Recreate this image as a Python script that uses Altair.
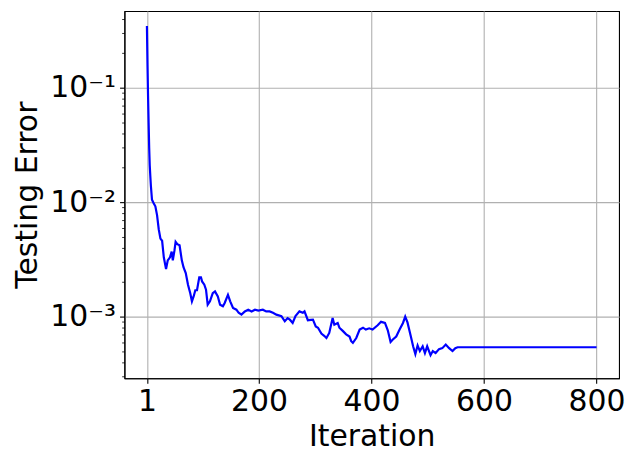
import altair as alt
import pandas as pd

iterations = [1, 2, 3, 4, 5, 6, 7, 8, 10, 13, 16, 19, 22, 25, 28, 31, 35, 38, 42, 45,
              47, 50, 52, 55, 59, 63, 66, 70, 74, 78, 81, 84, 87, 90, 94, 97, 99, 103, 106, 109,
              113, 118, 122, 127, 131, 136, 139, 145, 149, 154, 160, 164, 169, 175, 181, 187, 193, 199, 207, 213,
              219, 225, 231, 240, 246, 251, 255, 260, 265, 272, 278, 281, 287, 296, 301, 305, 311, 316, 320, 325,
              331, 334, 340, 343, 349, 355, 361, 364, 367, 373, 379, 385, 390, 396, 402, 411, 417, 424, 429, 434,
              438, 444, 450, 456, 460, 464, 470, 474, 478, 482, 486, 491, 495, 499, 505, 509, 514, 520, 526, 532,
              538, 544, 549, 553, 800]
errors = [0.346, 0.16, 0.085, 0.05, 0.03, 0.021, 0.017, 0.014, 0.0105, 0.0098, 0.0092, 0.0077, 0.0058, 0.0048, 0.0046, 0.0033, 0.0026, 0.0031, 0.0033, 0.0037,
          0.0031, 0.0038, 0.0045, 0.0043, 0.0042, 0.0031, 0.0027, 0.0024, 0.0019, 0.0016, 0.00136, 0.0015, 0.0017, 0.0017, 0.0022, 0.0022, 0.00203, 0.0019, 0.00172, 0.00127,
          0.00136, 0.0016, 0.00166, 0.0015, 0.00127, 0.00123, 0.00131, 0.00155, 0.00136, 0.00119, 0.00115, 0.00108, 0.00104, 0.00111, 0.00115, 0.00111, 0.00115, 0.00113, 0.00115, 0.00111,
          0.00111, 0.00108, 0.00104, 0.00101, 0.00091, 0.00097, 0.00094, 0.00088, 0.00101, 0.00111, 0.00108, 0.00111, 0.00093, 0.00094, 0.00082, 0.0008, 0.00071, 0.00068, 0.00065, 0.00072,
          0.00097, 0.00085, 0.00088, 0.0008, 0.00075, 0.0007, 0.00067, 0.00061, 0.00059, 0.00065, 0.00077, 0.0008, 0.00077, 0.00079, 0.00077, 0.00084, 0.0009, 0.00088, 0.00076, 0.0006,
          0.00063, 0.00067, 0.00077, 0.00088, 0.001, 0.00089, 0.00067, 0.00055, 0.00047, 0.00056, 0.0005, 0.00055, 0.00048, 0.00055, 0.00046, 0.0005, 0.00048, 0.00052, 0.00053, 0.00057,
          0.00053, 0.0005, 0.00053, 0.00054, 0.00054]

x_ticks = [1, 200, 400, 600, 800]
y_major = [0.001, 0.01, 0.1]
y_minor = [0.0003, 0.0004, 0.0005, 0.0006, 0.0007, 0.0008, 0.0009,
           0.002, 0.003, 0.004, 0.005, 0.006, 0.007, 0.008, 0.009,
           0.02, 0.03, 0.04, 0.05, 0.06, 0.07, 0.08, 0.09,
           0.2, 0.3, 0.4]

df = pd.DataFrame({"Iteration": iterations, "Error": errors})

FONT = "DejaVu Sans"

x_enc = alt.X("Iteration:Q",
              scale=alt.Scale(domain=[-38.95, 839.95], nice=False, zero=False),
              axis=alt.Axis(values=x_ticks, title="Iteration", grid=True,
                            gridColor="#b0b0b0", gridWidth=1.1,
                            domainColor="black", domainWidth=1.1,
                            tickColor="black", tickSize=4.9, tickWidth=1.1,
                            labelFont=FONT, labelFontSize=30, labelColor="black",
                            labelPadding=3, labelFlush=False, labelOverlap=False,
                            titleFont=FONT, titleFontSize=30, titleFontWeight="normal",
                            titleColor="black", titlePadding=6))

y_scale = alt.Scale(type="log", domain=[0.000289, 0.468], nice=False)

line = alt.Chart(df).mark_line(color="#0000ff", strokeWidth=2.2).encode(
    x=x_enc,
    y=alt.Y("Error:Q", scale=y_scale,
            axis=alt.Axis(values=y_major, title="Testing Error", orient="left",
                          grid=True, gridColor="#b0b0b0", gridWidth=1.1,
                          domainColor="black", domainWidth=1.1,
                          tickColor="black", tickSize=4.9, tickWidth=1.1,
                          labelExpr="datum.value < 0.005 ? '10⁻³' : (datum.value < 0.05 ? '10⁻²' : '10⁻¹')",
                          labelFont=FONT, labelFontSize=30, labelColor="black",
                          labelPadding=4, labelOverlap=False, labelFlush=False,
                          titleFont=FONT, titleFontSize=30, titleFontWeight="normal",
                          titleColor="black", titleX=-97, titleBaseline="middle")),
)

minor = alt.Chart(df).mark_line(opacity=0).encode(
    y=alt.Y("Error:Q", scale=y_scale,
            axis=alt.Axis(values=y_minor, orient="left", title=None, labels=False,
                          grid=False, domain=False, tickColor="black",
                          tickSize=2.8, tickWidth=0.8)),
)

chart = alt.layer(line, minor).resolve_axis(y="independent").properties(
    width=497, height=369,
    autosize=alt.AutoSizeParams(type="none"),
    padding={"left": 117, "top": 2, "right": 10, "bottom": 75},
    background="white",
).configure_view(stroke="black", strokeWidth=1.1)

chart.save("out.html", embed_options={"renderer": "svg", "actions": False})
